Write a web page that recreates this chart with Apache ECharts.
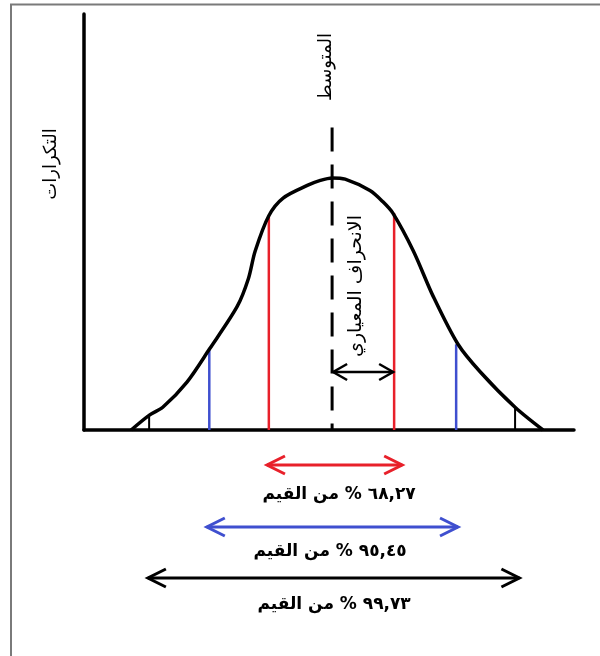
<!DOCTYPE html>
<html><head><meta charset="utf-8">
<script src="https://cdn.jsdelivr.net/npm/echarts@6/dist/echarts.min.js"></script>
<style>html,body{margin:0;padding:0;background:#fff}#c{width:600px;height:656px}</style>
</head><body><div id="c"></div>
<script>
// x in units of standard deviation from the mean, y = relative frequency (peak = 1)
const curveX = [-3.24, -2.94, -2.73, -2.34, -1.98, -1.53, -1.35, -1.24, -1.02, -0.79, -0.40, -0.19, 0, 0.21, 0.61, 0.82, 0.98, 1.31, 1.63, 2.03, 2.39, 2.95, 3.40];
const curveY = [0, 0.06, 0.09, 0.19, 0.32, 0.49, 0.60, 0.71, 0.85, 0.92, 0.97, 0.99, 1, 0.995, 0.95, 0.905, 0.86, 0.71, 0.53, 0.34, 0.23, 0.09, 0];
const sigmaX = [-2.95, -1.98, -1.02, 1.0, 2.0, 2.95];
const sigmaTop = [0.06, 0.32, 0.85, 0.86, 0.34, 0.09];
const sigmaLevel = [3, 2, 1, 1, 2, 3];
const meanX = 0;
const meanTop = 1.2;
const stdArrowY = 0.23;
const stdArrowFrom = 0;
const stdArrowTo = 1;
const bandLeft = [-1.05, -2.02, -2.97];
const bandRight = [1.13, 2.03, 3.02];
const bandLabels = ['٦٨,٢٧ % من القيم', '٩٥,٤٥ % من القيم', '٩٩,٧٣ % من القيم'];
const yTitle = 'التكرارات';
const meanTitle = 'المتوسط';
const stdTitle = 'الانحراف المعياري';

const levelColor = {1: '#e8202a', 2: '#3f4fcf', 3: '#000000'};
const bandPixY = [465, 527, 578];
const bandTextY = [495, 552, 605];
const bandTextDx = [7, -2, 2];
const FONT = "'DejaVu Sans', sans-serif";

function arrowHeads(x1, x2, y, L, h, color, w) {
  return [
    {type: 'line', shape: {x1: x1, y1: y, x2: x2, y2: y}, style: {stroke: color, lineWidth: w}},
    {type: 'polyline', shape: {points: [[x1 + L, y - h], [x1, y], [x1 + L, y + h]]}, style: {stroke: color, lineWidth: w, fill: null}},
    {type: 'polyline', shape: {points: [[x2 - L, y - h], [x2, y], [x2 - L, y + h]]}, style: {stroke: color, lineWidth: w, fill: null}}
  ];
}

const chart = echarts.init(document.getElementById('c'));
chart.setOption({
  animation: false,
  backgroundColor: '#fff',
  grid: {left: 84, right: 26, top: 14, bottom: 226},
  xAxis: {type: 'value', min: -4, max: 3.9, axisLine: {onZero: false, lineStyle: {color: '#000', width: 3.5}}, axisTick: {show: false}, axisLabel: {show: false}, splitLine: {show: false}},
  yAxis: {type: 'value', min: 0, max: 1.65, axisLine: {show: true, onZero: false, lineStyle: {color: '#000', width: 3.5}}, axisTick: {show: false}, axisLabel: {show: false}, splitLine: {show: false}},
  graphic: [
    {type: 'polyline', shape: {points: [[11, 700], [11, 4.5], [700, 4.5]]}, style: {stroke: '#7a7a7a', lineWidth: 2, fill: null}, z: 0},
    {type: 'text', x: 51, y: 164, rotation: Math.PI / 2, style: {text: yTitle, font: '18px ' + FONT, fill: '#000', align: 'center', verticalAlign: 'middle'}},
    {type: 'text', x: 326, y: 67, rotation: Math.PI / 2, style: {text: meanTitle, font: '18px ' + FONT, fill: '#000', align: 'center', verticalAlign: 'middle'}},
    {type: 'text', x: 356, y: 286, rotation: Math.PI / 2, style: {text: stdTitle, font: '19px ' + FONT, fill: '#000', align: 'center', verticalAlign: 'middle'}}
  ],
  series: [
    {type: 'custom', coordinateSystem: 'cartesian2d', clip: false, z: 3,
     data: sigmaX.map((x, i) => [x, sigmaTop[i], sigmaLevel[i]]),
     renderItem: (params, api) => {
       const a = api.coord([api.value(0), 0]);
       const b = api.coord([api.value(0), api.value(1)]);
       const lv = api.value(2);
       return {type: 'line', shape: {x1: a[0], y1: a[1], x2: b[0], y2: b[1]}, style: {stroke: levelColor[lv], lineWidth: lv === 3 ? 2 : 2.5}};
     }},
    {type: 'line', data: [[meanX, meanTop], [meanX, 0]], symbol: 'none', z: 3,
     lineStyle: {color: '#000', width: 3, type: [24, 13]}},
    {type: 'line', data: curveX.map((x, i) => [x, curveY[i]]), symbol: 'none', smooth: 0.3, z: 4,
     lineStyle: {color: '#000', width: 3.5}},
    {type: 'custom', coordinateSystem: 'cartesian2d', clip: false, z: 5,
     data: [[stdArrowFrom, stdArrowTo, stdArrowY]],
     renderItem: (params, api) => {
       const a = api.coord([api.value(0), api.value(2)]);
       const b = api.coord([api.value(1), api.value(2)]);
       return {type: 'group', children: arrowHeads(a[0] + 1, b[0] - 1, a[1], 14, 8, '#000', 2.5)};
     }},
    {type: 'custom', coordinateSystem: 'cartesian2d', clip: false, z: 5,
     data: bandLeft.map((l, i) => [l, bandRight[i], i]),
     renderItem: (params, api) => {
       const i = api.value(2);
       const a = api.coord([api.value(0), 0]);
       const b = api.coord([api.value(1), 0]);
       const m = api.coord([meanX, 0]);
       const color = levelColor[i + 1];
       const kids = arrowHeads(a[0], b[0], bandPixY[i], 18, 9, color, 3);
       kids.push({type: 'text', x: m[0] + bandTextDx[i], y: bandTextY[i], style: {text: bandLabels[i], font: 'bold 17px ' + FONT, fill: '#000', align: 'center', verticalAlign: 'middle'}});
       return {type: 'group', children: kids};
     }}
  ]
});
</script></body></html>
